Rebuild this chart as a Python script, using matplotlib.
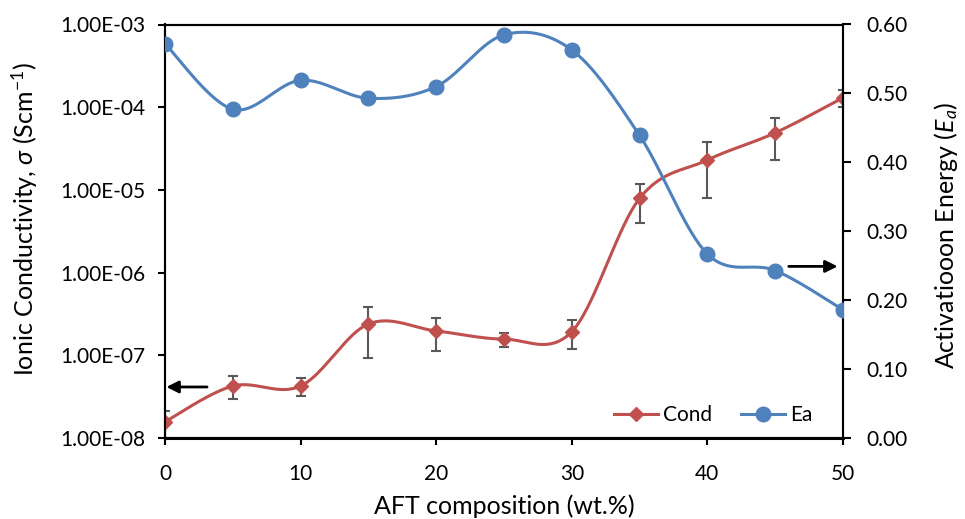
import numpy as np
import matplotlib
matplotlib.use("Agg")
import matplotlib.pyplot as plt
from matplotlib.ticker import FixedLocator, FuncFormatter

plt.rcParams['font.family'] = ['Lato', 'DejaVu Sans']
plt.rcParams['mathtext.fontset'] = 'custom'
plt.rcParams['mathtext.rm'] = 'Lato'
plt.rcParams['mathtext.it'] = 'Lato:italic'

# ---- data ----
composition = [0, 5, 10, 15, 20, 25, 30, 35, 40, 45, 50]
cond = [1.57e-8, 4.25e-8, 4.25e-8, 2.39e-7, 1.97e-7, 1.57e-7, 1.93e-7,
        7.9e-6, 2.30e-5, 4.9e-5, 1.30e-4]
cond_err = [0.57e-8, 1.3e-8, 1.05e-8, 1.45e-7, 0.85e-7, 0.3e-7, 0.75e-7,
            3.9e-6, 1.5e-5, 2.6e-5, 0.3e-4]
ea = [0.572, 0.477, 0.519, 0.493, 0.510, 0.585, 0.563, 0.439, 0.267, 0.243, 0.186]
left_ticks = [1e-8, 1e-7, 1e-6, 1e-5, 1e-4, 1e-3]
right_ticks = [0.0, 0.1, 0.2, 0.3, 0.4, 0.5, 0.6]
x_ticks = [0, 10, 20, 30, 40, 50]

RED = '#C0504D'
BLUE = '#4F81BD'
ERR = '#595959'


def smooth(x, y, n=40):
    """Excel-like smoothed line (Catmull-Rom Bezier)."""
    P = np.column_stack([x, y]).astype(float)
    ext = np.vstack([P[0], P, P[-1]])
    out = []
    t = np.linspace(0, 1, n)[:, None]
    for i in range(len(P) - 1):
        p0, p1, p2, p3 = ext[i], ext[i + 1], ext[i + 2], ext[i + 3]
        c1 = p1 + (p2 - p0) / 6.0
        c2 = p2 - (p3 - p1) / 6.0
        seg = ((1 - t) ** 3) * p1 + 3 * ((1 - t) ** 2) * t * c1 + 3 * (1 - t) * t ** 2 * c2 + t ** 3 * p2
        out.append(seg if i == 0 else seg[1:])
    S = np.vstack(out)
    return S[:, 0], S[:, 1]


fig = plt.figure(figsize=(9.65, 5.19), dpi=100)
ax = fig.add_axes([165 / 965, 1 - 438 / 519, (843 - 165) / 965, (438 - 24.5) / 519])
ax2 = ax.twinx()

# Conductivity (left, log)
ax.errorbar(composition, cond, yerr=cond_err, fmt='none', ecolor=ERR, elinewidth=1.5,
            capsize=3.5, capthick=1.5, zorder=2)
sx, sy = smooth(composition, np.log10(cond))
ax.plot(sx, 10 ** sy, color=RED, lw=2.2, zorder=3, solid_capstyle='round')
ax.plot(composition, cond, linestyle='none', marker='D', ms=7.5, color=RED, zorder=4)
ax.set_yscale('log')
ax.set_ylim(1e-8, 1e-3)
ax.set_xlim(0, 50)
ax.yaxis.set_major_locator(FixedLocator(left_ticks))
ax.yaxis.set_minor_locator(FixedLocator([]))
ax.yaxis.set_major_formatter(FuncFormatter(lambda v, p: '%.2E' % v))
ax.xaxis.set_major_locator(FixedLocator(x_ticks))

# Activation energy (right)
ex, ey = smooth(composition, ea)
ax2.plot(ex, ey, color=BLUE, lw=2.2, zorder=3)
ax2.plot(composition, ea, linestyle='none', marker='o', ms=10.5, color=BLUE, zorder=4)
ax2.set_ylim(0, 0.6)
ax2.yaxis.set_major_locator(FixedLocator(right_ticks))
ax2.yaxis.set_major_formatter(FuncFormatter(lambda v, p: '%.2f' % v))

for a in (ax, ax2):
    for s in a.spines.values():
        s.set_color('black')
        s.set_linewidth(1.5)
ax.spines['bottom'].set_linewidth(2.2)

ax.tick_params(axis='y', which='major', direction='out', length=5, width=1.5, pad=9,
               labelsize=15, colors='black')
ax.tick_params(axis='x', which='major', direction='out', length=5, width=1.5, pad=14,
               labelsize=15, colors='black')
ax2.tick_params(axis='y', which='major', direction='out', length=6, width=1.5, pad=11,
                labelsize=15, colors='black')

ax.set_xlabel('AFT composition (wt.%)', fontsize=18)
ax.xaxis.set_label_coords(0.5, -0.137)
ax.set_ylabel(r'Ionic Conductivity, $\mathit{\sigma}$ (Scm$^{-1}$)', fontsize=18)
ax.yaxis.set_label_coords(-0.184, 0.53)
ax2.set_ylabel(r'Activatiooon Energy ($\mathit{E_a}$)', fontsize=18)
ax2.yaxis.set_label_coords(1.132, 0.49)

# arrows indicating axes
ax.annotate('', xy=(0.1, 4.14e-8), xytext=(3.1, 4.14e-8),
            arrowprops=dict(arrowstyle='-|>', lw=2, color='black', mutation_scale=18,
                            shrinkA=0, shrinkB=0), zorder=5)
ax2.annotate('', xy=(49.6, 0.249), xytext=(46.0, 0.249),
             arrowprops=dict(arrowstyle='-|>', lw=2, color='black', mutation_scale=18,
                             shrinkA=0, shrinkB=0), zorder=5)

# legend
h1, = ax.plot([], [], color=RED, lw=2.2, marker='D', ms=7.5)
h2, = ax2.plot([], [], color=BLUE, lw=2.2, marker='o', ms=10.5)
ax2.legend([h1, h2], ['Cond', 'Ea'], loc='center right', bbox_to_anchor=(0.955, 0.056),
           ncol=2, frameon=False, fontsize=15, handlelength=2.1, handletextpad=0.25,
           columnspacing=1.4, borderpad=0, borderaxespad=0)

fig.savefig('out.png', dpi=100)
